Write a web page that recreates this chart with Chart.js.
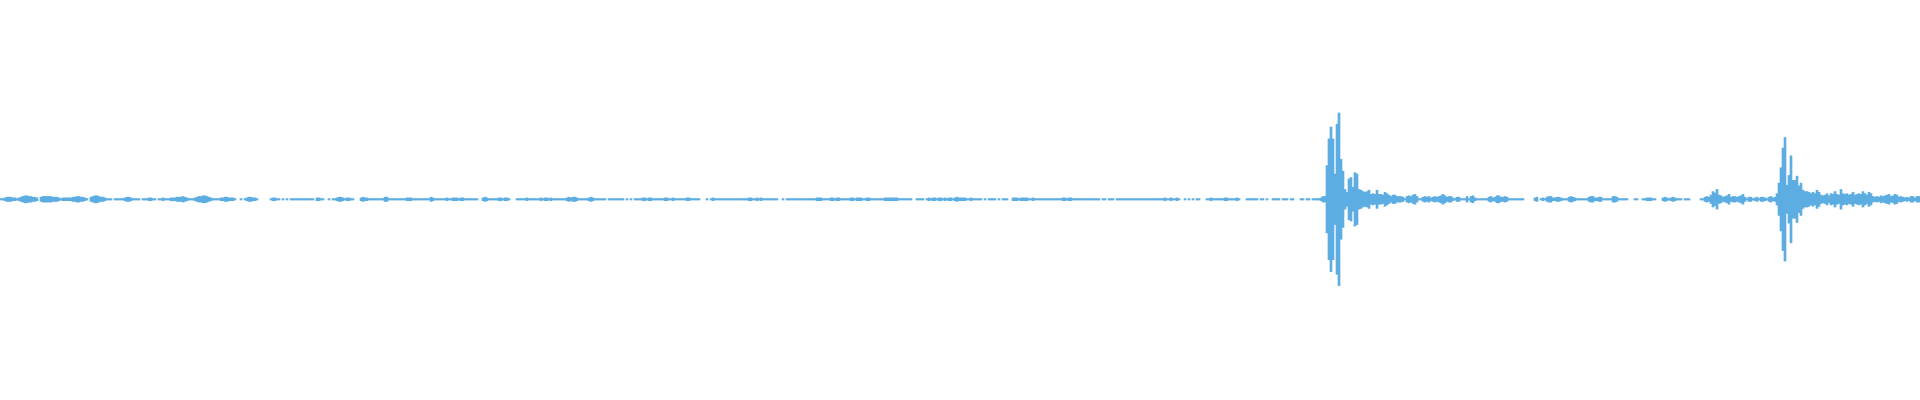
<!DOCTYPE html>
<html>
<head>
<meta charset="utf-8">
<script src="https://cdn.jsdelivr.net/npm/chart.js@4.4.1/dist/chart.umd.min.js"></script>
<style>
  html, body { margin: 0; padding: 0; background: #fff; }
  #wave { display: block; }
</style>
</head>
<body>
<canvas id="wave" width="1920" height="400"></canvas>
<script>
// Waveform envelope, one value per sample bin (amplitude, 0 = no signal)
// Each block starts at the sample index given in its *Start constant
const quietAStart = 0;
const quietA = [1,1,2,3,3,3,2,2,1,2,3,4,5,5,4,4,3,3,2,0,3,4,4,4,4,4,3,3,3,2,1,
  2,2,2,2,2,3,3,4,4,3,3,2,1,0,3,4,5,5,4,3,3,2,1,1,1,0,1,1,1,1,1,2,3,3,2,1,1,1,1,
  0,1,1,1,2,2,1,1,0,1,1,2,1,1,1,2,2,2,3,3,3,4,3,2,1,1,1,2,3,4,4,5,5,4,3,2,1,1,1,1,
  2,2,3,3,2,2,2,1,0,0,1,0,1,2,3,3,2,2,1,0,0,0,0,0,0,1,2,2,1,1,0,1,0,1,0,1,1,1,1,1];

const quietBStart = 150;
const quietB = [1,1,1,1,1,1,1,0,2,2,1,1,0,0,1,0,1,1,2,3,3,2,1,2,2,1,1,0,0,0,
  2,3,2,2,1,1,1,1,1,1,1,1,3,3,1,1,1,1,1,1,1,1,1,2,2,2,1,1,1,1,1,1,1,1,1,3,2,
  1,1,1,1,1,1,2,1,1,2,2,2,1,2,2,1,1,1,1,1,1,1,0,0,2,3,2,1,1,1,1,1,2,2,1,2,2,1,0,
  0,0,1,1,1,1,1,2,1,1,1,1,1,1,2,1,2,2,1,2,1,1,1,1,1,1,1,2,3,2,3,3,2,1,1,1,1,1,
  2,3,2,1,1,1];

const quietCStart = 300;
const quietC = [1,1,1,0,1,1,1,1,1,1,1,1,0,1,0,1,0,1,1,1,1,2,2,1,2,2,1,1,1,1,1,1,
  2,2,1,1,2,1,1,1,1,1,1,2,2,1,1,1,1,1,0,0,0,1,0,1,2,1,
  1,1,1,1,1,1,1,1,1,1,1,1,1,1,1,1,2,2,1,1,2,1,2,1,1,1,1,1,1,1,1,0,0,1,0,
  1,1,1,1,1,1,1,1,1,1,1,1,1,1,1,2,2,2,1,1,1,1,2,2,1,2,2,1,1,1,1,1,
  2,2,1,2,2,2,1,1,2,2,1,1,1,1,1,1,1,2,2,2,2,2,2,2,1];

const quietDStart = 450;
const quietD = [1,1,1,1,1,1,0,0,1,1,1,1,0,1,2,1,2,2,1,2,2,1,2,1,2,2,1,2,3,2,
  2,2,2,1,1,2,1,1,1,1,1,0,1,0,1,1,1,1,0,1,0,1,1,1,0,0,
  2,2,2,1,2,2,2,2,1,1,2,1,1,1,1,1,1,1,1,1,1,1,1,1,1,2,2,1,2,2,1,
  1,1,1,1,1,1,1,1,1,1,1,1,1,0,1,1,0,1,1,1,0,
  1,1,1,1,1,1,1,1,1,1,1,1,1,1,1,1,1,1,1,1,1,1,1,1,2,1,1,2,1,1,2,1,0,0,
  1,0,1,0,1,0,1,1,0,0,0,1,1,2,1,1,1,1,1,1,2,2,1,1,1,1,2,1,0,0,0,1,
  1,1,1,1,1,0,1,1,0,1,0,0,1,1,1,1,0,1,1,1,0,1,1,0,0,0,1,1,0,1,1,0,1,1,1,1];

const burst1Start = 660;
const burst1 = [2,4,4,48,86,103,86,36,107,123,57,40,14,10,29,31,17,38,36,14,
  13,11,10,11,13,7,8,7,13,7,7,6,10,8,6,4,6,6,4,4,4,3,1,4,5,4,6,7,4,1];

const quietEStart = 710;
const quietE = [1,3,4,3,4,2,3,4,3,4,5,7,5,3,4,4,2,1,3,3,1,1,1,4,1,4,5,2,
  1,1,1,1,1,1,3,4,2,3,5,5,3,3,4,3,1,1,1,1,1,1,1,1,0,0,0,0,0,2,3,0,1,
  2,1,3,4,4,2,2,3,3,2,1,1,1,3,4,3,2,1,1,1,1,1,1,3,4,4,2,2,3,3,1,1,1,1,1,
  4,4,3,1,1,1,1,1,0,0,0,1,1,0,0,1,1,2,2,2,1,1,0,0,0,2,3,2,1,2,3,2,1,
  1,1,0,1,1,1,0,0,0,0,0];

const burst2Start = 850;
const burst2 = [1,1,3,4,3,6,11,9,14,6,5,3,4,5,7,3,4,4,3,4,5,7,3,1,3,3,1,2,3,1,
  3,3,2,1,3,4,2,3,
  8,23,45,73,88,20,34,62,27,27,33,19,23,13,11,11,10,8,10,8,13,10,6,5,6,8,5,8,7,11,
  7,6,14,8,7,8,6,7,10,6,7,8,7,11,8,6,10,8,4,3,4,3,5,4,5,6,7,4,5,7,6,3,4,3,2,3,2,
  4,4,2,4,4];

const sampleCount = 960;

const blocks = [
  [quietAStart, quietA], [quietBStart, quietB], [quietCStart, quietC],
  [quietDStart, quietD], [burst1Start, burst1], [quietEStart, quietE],
  [burst2Start, burst2]
];

// floating bars from -amp to +amp, skip silent samples
const points = [];
blocks.forEach(([start, values]) => {
  values.forEach((amp, i) => {
    if (amp > 0) points.push({ x: start + i, y: [-amp, amp] });
  });
});

new Chart(document.getElementById('wave'), {
  type: 'bar',
  data: {
    datasets: [{
      data: points,
      backgroundColor: '#5dade2',
      borderWidth: 0,
      barThickness: 2
    }]
  },
  options: {
    responsive: false,
    animation: false,
    layout: { padding: 0 },
    plugins: {
      legend: { display: false },
      tooltip: { enabled: false }
    },
    scales: {
      x: { type: 'linear', display: false, min: -0.5, max: sampleCount - 0.5, offset: false },
      y: { display: false, min: -286, max: 284 }
    }
  }
});
</script>
</body>
</html>
